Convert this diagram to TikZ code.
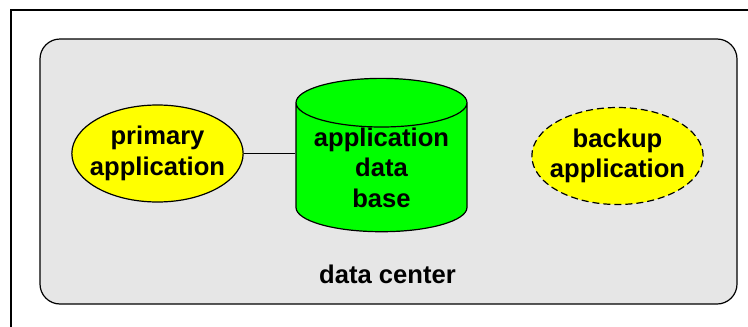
\documentclass[tikz,border=0pt]{standalone}
\usepackage{fontspec}
\setmainfont{Liberation Sans}
\usepackage{tikz}
\usetikzlibrary{shapes}

\definecolor{dcgray}{HTML}{E6E6E6}
\definecolor{appyellow}{HTML}{FFFF00}
\definecolor{dbgreen}{HTML}{00FF00}

\begin{document}
\begin{tikzpicture}[x=1pt,y=-1pt,line width=1.2pt,
    every node/.style={font=\fontsize{25.6}{30.5}\selectfont\bfseries,align=center},
    app/.style={draw,ellipse,fill=appyellow,inner xsep=-7pt,inner ysep=0pt,minimum width=171pt,minimum height=97pt},
    db/.style={draw,cylinder,shape border rotate=90,aspect=0.36,fill=dbgreen,inner sep=0pt,minimum width=171pt,minimum height=146pt}]
    \useasboundingbox (0,0) rectangle (748,327);
    \path[draw] (11,327) -- (11,10) -- (748,10);
    \path[draw,fill=dcgray,rounded corners=20pt] (40,39) rectangle (737,304);

    \node[app] (primary) at (157.5,153.5) {primary\\application};
    \node[db] (appdb) at (381.5,167.5) {application\\data\\base};
    \node[app,dashed,dash pattern=on 7pt off 4pt] (backup) at (617.5,156) {backup\\application};
    \node[anchor=base] (dc) at (387.5,283) {data center};

    \path[draw] (primary.east) edge (primary.east -| appdb.west);
  \end{tikzpicture}
\end{document}
